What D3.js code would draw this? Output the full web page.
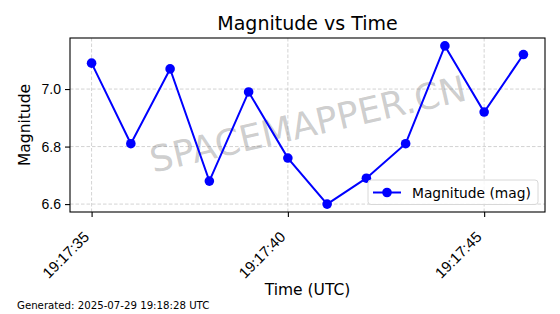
<!DOCTYPE html>
<html>
<head>
	<meta charset="utf-8">
	<title>Magnitude vs Time</title>
	<style type="text/css">
		body {
			margin: 0;
			background: #fff;
		}
		svg {
			display: block;
			font-family: "DejaVu Sans", sans-serif;
		}
		.grid line {
			stroke: #b0b0b0;
			stroke-opacity: 0.7;
			stroke-dasharray: 3.5, 2;
			stroke-width: 0.8;
		}
	</style>
</head>
<body>
	<svg class="viz" width="560" height="314"></svg>

	<script src="https://cdnjs.cloudflare.com/ajax/libs/d3/7.8.5/d3.min.js" charset="utf-8"></script>
	<script type="text/javascript">

		// data
		var times = ['19:17:35', '19:17:36', '19:17:37', '19:17:38', '19:17:39', '19:17:40',
			'19:17:41', '19:17:42', '19:17:43', '19:17:44', '19:17:45', '19:17:46'];
		var magnitudes = [7.09, 6.81, 7.07, 6.68, 6.99, 6.76, 6.60, 6.69, 6.81, 7.15, 6.92, 7.12];
		var xTickLabels = ['19:17:35', '19:17:40', '19:17:45'];
		var yTicks = [6.6, 6.8, 7.0];

		var parseTime = d3.utcParse('%Y-%m-%d %H:%M:%S');
		var toDate = function(t) { return parseTime('2025-07-29 ' + t); };
		var data = times.map(function(t, i) {
			return { t: toDate(t), v: magnitudes[i] };
		});

		var canvas = d3.select('.viz');
		var plotL = 70, plotR = 545, plotT = 38, plotB = 212;

		// matplotlib-like 5% margins
		var tExt = d3.extent(data, function(d) { return d.t; });
		var tPad = (tExt[1] - tExt[0]) * 0.05;
		var x = d3.scaleUtc()
			.domain([new Date(+tExt[0] - tPad), new Date(+tExt[1] + tPad)])
			.range([plotL, plotR]);

		var vExt = d3.extent(magnitudes);
		var vPad = (vExt[1] - vExt[0]) * 0.05;
		var y = d3.scaleLinear()
			.domain([vExt[0] - vPad, vExt[1] + vPad])
			.range([plotB, plotT]);

		var xTicks = xTickLabels.map(toDate);

		// grid
		var grid = canvas.append('g').attr('class', 'grid');
		grid.selectAll('.gx').data(xTicks)
			.enter().append('line')
				.attr('x1', function(d) { return x(d); })
				.attr('x2', function(d) { return x(d); })
				.attr('y1', plotT)
				.attr('y2', plotB);
		grid.selectAll('.gy').data(yTicks)
			.enter().append('line')
				.attr('x1', plotL)
				.attr('x2', plotR)
				.attr('y1', function(d) { return y(d); })
				.attr('y2', function(d) { return y(d); });

		// watermark
		canvas.append('text')
			.attr('transform', 'translate(308,124) rotate(-13)')
			.attr('text-anchor', 'middle')
			.attr('dy', '0.35em')
			.attr('font-size', '36px')
			.attr('fill', '#808080')
			.attr('fill-opacity', 0.4)
			.text('SPACEMAPPER.CN');

		// line + markers
		var line = d3.line()
			.x(function(d) { return x(d.t); })
			.y(function(d) { return y(d.v); });

		canvas.append('path')
			.datum(data)
			.attr('fill', 'none')
			.attr('stroke', '#0000ff')
			.attr('stroke-width', 2)
			.attr('d', line);

		canvas.selectAll('circle.pt').data(data)
			.enter().append('circle')
				.attr('class', 'pt')
				.attr('cx', function(d) { return x(d.t); })
				.attr('cy', function(d) { return y(d.v); })
				.attr('r', 4.8)
				.attr('fill', '#0000ff');

		// axes
		var xAxis = d3.axisBottom(x)
			.tickValues(xTicks)
			.tickFormat(d3.utcFormat('%H:%M:%S'))
			.tickSize(5)
			.tickSizeOuter(0);
		var gx = canvas.append('g')
			.attr('transform', 'translate(0,' + plotB + ')')
			.call(xAxis);
		gx.select('.domain').remove();
		gx.selectAll('line').attr('stroke', '#000').attr('stroke-width', 1.1);
		gx.selectAll('text')
			.attr('font-size', '15px')
			.attr('fill', '#000')
			.attr('text-anchor', 'end')
			.attr('y', 0)
			.attr('dy', '0.75em')
			.attr('transform', 'translate(-10,18) rotate(-45)');

		var yAxis = d3.axisLeft(y)
			.tickValues(yTicks)
			.tickFormat(d3.format('.1f'))
			.tickSize(5)
			.tickSizeOuter(0);
		var gy = canvas.append('g')
			.attr('transform', 'translate(' + plotL + ',0)')
			.call(yAxis);
		gy.select('.domain').remove();
		gy.selectAll('line').attr('stroke', '#000').attr('stroke-width', 1.1);
		gy.selectAll('text')
			.attr('font-size', '14px')
			.attr('fill', '#000')
			.attr('x', -9);

		// frame
		canvas.append('rect')
			.attr('x', plotL)
			.attr('y', plotT)
			.attr('width', plotR - plotL)
			.attr('height', plotB - plotT)
			.attr('fill', 'none')
			.attr('stroke', '#000')
			.attr('stroke-width', 1.1);

		// legend
		var lg = canvas.append('g').attr('transform', 'translate(368,180)');
		lg.append('rect')
			.attr('width', 170)
			.attr('height', 24.5)
			.attr('rx', 3)
			.attr('fill', '#fff')
			.attr('fill-opacity', 0.8)
			.attr('stroke', '#d8d8d8')
			.attr('stroke-width', 1);
		lg.append('line')
			.attr('x1', 5).attr('x2', 33)
			.attr('y1', 12.5).attr('y2', 12.5)
			.attr('stroke', '#0000ff')
			.attr('stroke-width', 2);
		lg.append('circle')
			.attr('cx', 19).attr('cy', 12.5).attr('r', 4.8)
			.attr('fill', '#0000ff');
		lg.append('text')
			.attr('x', 44).attr('y', 17.5)
			.attr('font-size', '13.8px')
			.text('Magnitude (mag)');

		// titles
		canvas.append('text')
			.attr('x', (plotL + plotR) / 2).attr('y', 30)
			.attr('text-anchor', 'middle')
			.attr('font-size', '19px')
			.text('Magnitude vs Time');
		canvas.append('text')
			.attr('x', (plotL + plotR) / 2).attr('y', 295)
			.attr('text-anchor', 'middle')
			.attr('font-size', '15.5px')
			.text('Time (UTC)');
		canvas.append('text')
			.attr('transform', 'translate(30,' + (plotT + plotB) / 2 + ') rotate(-90)')
			.attr('text-anchor', 'middle')
			.attr('font-size', '15.5px')
			.text('Magnitude');

		canvas.append('text')
			.attr('x', 17).attr('y', 309)
			.attr('font-size', '10.2px')
			.text('Generated: 2025-07-29 19:18:28 UTC');

	</script>
</body>
</html>
